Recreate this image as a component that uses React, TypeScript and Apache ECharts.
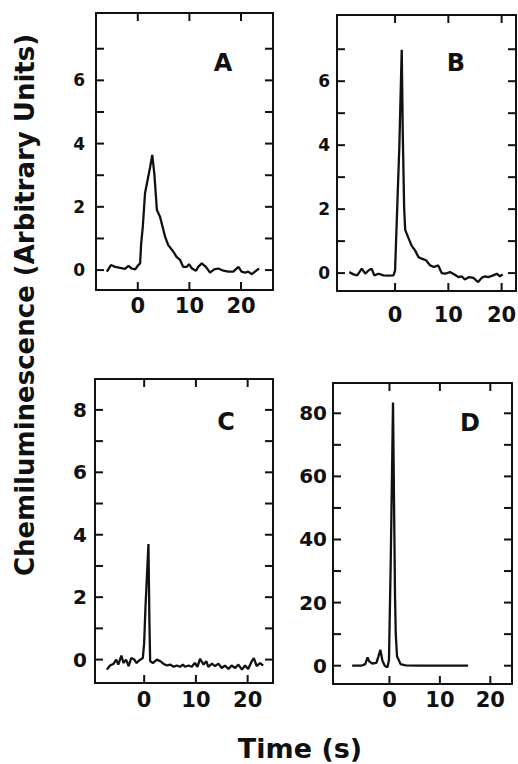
import React, { useEffect, useRef } from "react";
import * as echarts from "echarts";

// ---- Data (time in s, chemiluminescence in arbitrary units) ----
const A_TIME = [-6.0, -5.2, -4.4, -3.4, -2.5, -1.8, -1.2, -0.5, 0.1, 0.45, 0.65, 0.97, 1.4, 1.9, 2.4, 2.8, 3.2, 3.7, 4.3, 4.8, 5.3, 5.9, 6.9, 7.5, 8.2, 8.8, 9.5, 9.9, 10.5, 11.3, 11.7, 12.4, 13.2, 14.0, 14.8, 15.6, 16.6, 17.5, 18.5, 19.5, 20.1, 20.8, 21.4, 22.1, 22.7, 23.5];
const A_CL = [-0.05, 0.16, 0.1, 0.07, 0.04, 0.13, 0.05, 0.02, 0.16, 0.21, 0.84, 1.37, 2.43, 2.85, 3.27, 3.64, 3.06, 1.9, 1.69, 1.37, 1.05, 0.79, 0.58, 0.42, 0.32, 0.1, 0.1, 0.19, 0.05, -0.02, 0.1, 0.21, 0.1, -0.08, 0.02, 0.05, -0.02, -0.05, -0.05, 0.1, -0.05, -0.08, -0.05, -0.13, -0.05, 0.05];

const B_TIME = [-8.6, -7.8, -7.1, -6.25, -5.6, -5.0, -4.4, -3.9, -3.1, -2.2, -1.25, -0.3, 0.0, 0.45, 0.8, 1.25, 1.45, 1.7, 1.9, 2.5, 3.1, 3.75, 4.4, 5.0, 5.8, 6.6, 7.3, 8.1, 8.75, 9.4, 10.3, 10.9, 11.9, 12.5, 13.1, 13.9, 14.7, 15.6, 16.25, 16.9, 17.5, 18.4, 19.1, 19.7, 20.2];
const B_CL = [0.03, -0.04, -0.07, 0.14, -0.02, 0.08, 0.14, -0.07, -0.02, -0.07, -0.08, -0.07, 0.08, 2.27, 3.94, 6.98, 4.35, 2.06, 1.35, 1.1, 0.86, 0.71, 0.5, 0.45, 0.4, 0.24, 0.19, 0.24, 0.0, -0.02, 0.03, -0.02, -0.125, -0.1, -0.2, -0.125, -0.15, -0.28, -0.15, -0.1, -0.125, -0.07, -0.02, -0.1, -0.04];

const C_TIME = [-7.2, -6.6, -5.9, -5.4, -5.0, -4.4, -4.0, -3.5, -3.0, -2.5, -1.9, -1.5, -0.9, -0.26, 0.0, 0.26, 0.83, 1.03, 1.16, 1.67, 2.45, 3.1, 3.7, 4.4, 5.0, 5.7, 6.3, 6.95, 7.5, 7.9, 8.6, 9.2, 9.8, 10.3, 10.8, 11.5, 12.0, 12.4, 13.1, 13.7, 14.35, 15.0, 15.6, 16.3, 16.9, 17.6, 18.2, 18.9, 19.5, 20.1, 20.8, 21.2, 21.75, 22.4, 23.0];
const C_CL = [-0.32, -0.19, -0.13, 0.0, -0.16, 0.13, -0.11, 0.0, -0.21, 0.05, 0.0, -0.11, -0.02, 0.05, 0.53, 1.7, 3.7, 1.07, -0.05, -0.11, 0.0, -0.05, -0.13, -0.19, -0.16, -0.23, -0.19, -0.23, -0.16, -0.23, -0.19, -0.23, -0.11, -0.23, 0.02, -0.16, -0.05, -0.23, -0.13, -0.21, -0.13, -0.27, -0.19, -0.3, -0.19, -0.27, -0.16, -0.32, -0.19, -0.3, -0.05, 0.05, -0.21, -0.11, -0.19];

const D_TIME = [-7.4, -5.6, -4.8, -4.35, -4.0, -3.4, -2.6, -2.2, -1.8, -1.4, -0.9, -0.4, -0.1, 0.25, 0.45, 0.7, 0.95, 1.1, 1.25, 1.5, 2.2, 3.2, 6.0, 10.0, 15.6];
const D_CL = [0, 0, 0.5, 2.6, 1.3, 0.7, 0.9, 2.9, 5.0, 1.6, -0.1, -0.5, 1.8, 33, 55, 83.4, 45, 22, 10, 3, 0.5, 0.1, 0, 0, 0];

const X_TICKS = [0, 10, 20];
const Y_TICKS_AB = [0, 1, 2, 3, 4, 5, 6, 7];
const Y_LABELS_AB = [0, 2, 4, 6];
const Y_TICKS_C = [0, 1, 2, 3, 4, 5, 6, 7, 8];
const Y_LABELS_C = [0, 2, 4, 6, 8];
const Y_TICKS_D = [0, 10, 20, 30, 40, 50, 60, 70, 80];
const Y_LABELS_D = [0, 20, 40, 60, 80];

const PANEL_NAMES = ["A", "B", "C", "D"];
const Y_TITLE = "Chemiluminescence (Arbitrary Units)";
const X_TITLE = "Time (s)";

// ---- Layout ----
const FONT = "DejaVu Sans";
const INK = "#111";
const TICK_LEN = 8;

const PANELS = [
  { name: PANEL_NAMES[0], t: A_TIME, v: A_CL, grid: { left: 96, top: 13, width: 177, height: 277 }, x: [-8.1, 26.2], y: [-0.63, 8.13], yTicks: Y_TICKS_AB, yLabels: Y_LABELS_AB, yFont: 17, yMargin: 11, xMargin: 5, letter: [223, 63] },
  { name: PANEL_NAMES[1], t: B_TIME, v: B_CL, grid: { left: 337, top: 15, width: 179, height: 276 }, x: [-10.9, 22.7], y: [-0.56, 8.07], yTicks: Y_TICKS_AB, yLabels: Y_LABELS_AB, yFont: 17, yMargin: 7, xMargin: 13, letter: [456, 63] },
  { name: PANEL_NAMES[2], t: C_TIME, v: C_CL, grid: { left: 95, top: 379, width: 178, height: 304 }, x: [-9.5, 24.9], y: [-0.75, 8.99], yTicks: Y_TICKS_C, yLabels: Y_LABELS_C, yFont: 20, yMargin: 8, xMargin: 6, letter: [226, 422] },
  { name: PANEL_NAMES[3], t: D_TIME, v: D_CL, grid: { left: 333, top: 383, width: 179, height: 301 }, x: [-11.2, 24.3], y: [-5.8, 89.6], yTicks: Y_TICKS_D, yLabels: Y_LABELS_D, yFont: 20, yMargin: 6, xMargin: 5, letter: [470, 423] },
];

export default function App() {
  const ref = useRef<HTMLDivElement>(null);
  useEffect(() => {
    if (!ref.current) return;
    const chart = echarts.init(ref.current, null, { renderer: "svg" });
    const axisLine = { show: true, onZero: false, lineStyle: { color: INK, width: 2 } };
    const grid: any[] = [];
    const xAxis: any[] = [];
    const yAxis: any[] = [];
    const series: any[] = [];
    const graphic: any[] = [];
    const tickLine = (x1: number, y1: number, x2: number, y2: number) => ({
      type: "line", shape: { x1, y1, x2, y2 }, style: { stroke: INK, lineWidth: 2 },
    });
    PANELS.forEach((p, i) => {
      grid.push({ ...p.grid, containLabel: false, outerBoundsMode: "none" });
      xAxis.push({
        type: "value", gridIndex: i, position: "bottom", min: p.x[0], max: p.x[1],
        axisLine, splitLine: { show: false }, axisTick: { show: false },
        axisLabel: { customValues: X_TICKS, margin: p.xMargin, fontFamily: FONT, fontWeight: "bold", fontSize: 21, color: INK },
      });
      xAxis.push({
        type: "value", gridIndex: i, position: "top", min: p.x[0], max: p.x[1],
        axisLine, splitLine: { show: false }, axisTick: { show: false }, axisLabel: { show: false },
      });
      yAxis.push({
        type: "value", gridIndex: i, position: "left", min: p.y[0], max: p.y[1],
        axisLine, splitLine: { show: false }, axisTick: { show: false },
        axisLabel: { customValues: p.yLabels, margin: p.yMargin, fontFamily: FONT, fontWeight: "bold", fontSize: p.yFont, color: INK },
      });
      yAxis.push({
        type: "value", gridIndex: i, position: "right", min: p.y[0], max: p.y[1],
        axisLine, splitLine: { show: false }, axisTick: { show: false }, axisLabel: { show: false },
      });
      series.push({
        type: "line", xAxisIndex: 2 * i, yAxisIndex: 2 * i, symbol: "none",
        lineStyle: { color: INK, width: 2.3 }, data: p.t.map((t, k) => [t, p.v[k]]),
      });
      // inward ticks on left & right frame, placed through the y scale
      series.push({
        type: "custom", xAxisIndex: 2 * i, yAxisIndex: 2 * i, clip: false, silent: true,
        data: p.yTicks.map((v) => [p.x[0], v]),
        renderItem: (params: any, api: any) => {
          const v = api.value(1);
          const l = api.coord([p.x[0], v]);
          const r = api.coord([p.x[1], v]);
          return { type: "group", children: [tickLine(l[0], l[1], l[0] + TICK_LEN, l[1]), tickLine(r[0] - TICK_LEN, r[1], r[0], r[1])] };
        },
      });
      // inward ticks on bottom & top frame, placed through the x scale
      series.push({
        type: "custom", xAxisIndex: 2 * i, yAxisIndex: 2 * i, clip: false, silent: true,
        data: X_TICKS.map((v) => [v, p.y[0]]),
        renderItem: (params: any, api: any) => {
          const v = api.value(0);
          const b = api.coord([v, p.y[0]]);
          const t = api.coord([v, p.y[1]]);
          return { type: "group", children: [tickLine(b[0], b[1], b[0], b[1] - TICK_LEN), tickLine(t[0], t[1], t[0], t[1] + TICK_LEN)] };
        },
      });
      graphic.push({
        type: "text", x: p.letter[0], y: p.letter[1],
        style: { text: p.name, fontFamily: FONT, fontWeight: "bold", fontSize: 24, fill: INK, textAlign: "center", textVerticalAlign: "middle" },
      });
    });
    graphic.push({
      type: "text", x: 25, y: 305, rotation: Math.PI / 2,
      style: { text: Y_TITLE, fontFamily: FONT, fontWeight: "bold", fontSize: 26, fill: INK, textAlign: "center", textVerticalAlign: "middle" },
    });
    graphic.push({
      type: "text", x: 300, y: 748,
      style: { text: X_TITLE, fontFamily: FONT, fontWeight: "bold", fontSize: 27, fill: INK, textAlign: "center", textVerticalAlign: "middle" },
    });
    chart.setOption({ animation: false, backgroundColor: "#fff", grid, xAxis, yAxis, series, graphic });
    return () => chart.dispose();
  }, []);
  return <div ref={ref} style={{ position: "absolute", left: 0, top: 0, width: 518, height: 764 }} />;
}
